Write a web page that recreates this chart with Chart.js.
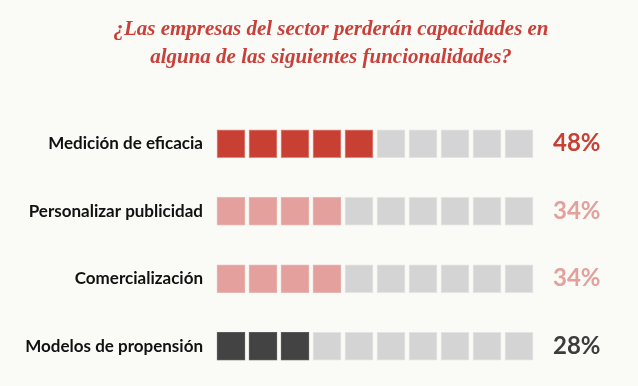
<!DOCTYPE html>
<html>
<head>
<meta charset="utf-8">
<script src="https://cdn.jsdelivr.net/npm/chart.js@4"></script>
<style>
  body { margin: 0; background: #fafaf6; }
  #wrap { width: 638px; height: 386px; }
</style>
</head>
<body>
<div id="wrap"><canvas id="wafflechart"></canvas></div>
<script>
  const categories = ['Medición de eficacia', 'Personalizar publicidad', 'Comercialización', 'Modelos de propensión'];
  const percentages = [48, 34, 34, 28];
  const filledSquares = [5, 4, 4, 3];
  const totalSquares = 10;

  const rowColors = ['#c84034', '#e3a09c', '#e3a09c', '#434343'];
  const rowBorders = ['#de8a80', '#ebb6b2', '#ebb6b2', '#5a5a5a'];
  const pctColors = ['#c84034', '#e3a09c', '#e3a09c', '#3c3c3c'];
  const emptyColor = '#d4d4d4';
  const emptyBorder = '#e4e4e4';
  const gap = 0.0625;

  const datasets = [];
  for (let i = 0; i < totalSquares; i++) {
    datasets.push({
      data: categories.map(() => [i + gap, i + 1 - gap]),
      backgroundColor: categories.map((c, r) => i < filledSquares[r] ? rowColors[r] : emptyColor),
      borderColor: categories.map((c, r) => i < filledSquares[r] ? rowBorders[r] : emptyBorder),
      borderWidth: 1,
      borderSkipped: false,
      barThickness: 28,
      grouped: false
    });
  }

  // no extra label padding at top/bottom of the side axes
  const noPad = (width) => (scale) => {
    scale.width = width;
    scale.paddingTop = 0;
    scale.paddingBottom = 0;
  };

  new Chart(document.getElementById('wafflechart'), {
    type: 'bar',
    data: { labels: categories, datasets: datasets },
    options: {
      indexAxis: 'y',
      responsive: true,
      maintainAspectRatio: false,
      animation: false,
      layout: { padding: { left: 24, right: 0, top: 0, bottom: 6 } },
      plugins: {
        legend: { display: false },
        tooltip: { enabled: false },
        title: {
          display: true,
          text: ['¿Las empresas del sector perderán capacidades en', 'alguna de las siguientes funcionalidades?'],
          color: '#c9403a',
          font: { family: 'Liberation Serif', size: 21, style: 'italic', weight: 'bold', lineHeight: 1.333 },
          padding: { top: 16, bottom: 38 }
        }
      },
      scales: {
        x: {
          display: false,
          min: 0,
          max: totalSquares
        },
        y: {
          grid: { display: false, drawTicks: false },
          border: { display: false },
          ticks: {
            color: '#111111',
            padding: 12,
            font: { family: 'Lato', size: 17, weight: 'bold' }
          },
          afterFit: noPad(191)
        },
        pct: {
          type: 'category',
          labels: percentages.map(v => v + '%'),
          position: 'right',
          offset: true,
          grid: { display: false, drawTicks: false },
          border: { display: false },
          ticks: {
            padding: 18,
            color: (ctx) => pctColors[ctx.index],
            font: { family: 'Lato', size: 24, weight: 'bold' }
          },
          afterFit: noPad(103)
        }
      }
    }
  });
</script>
</body>
</html>
